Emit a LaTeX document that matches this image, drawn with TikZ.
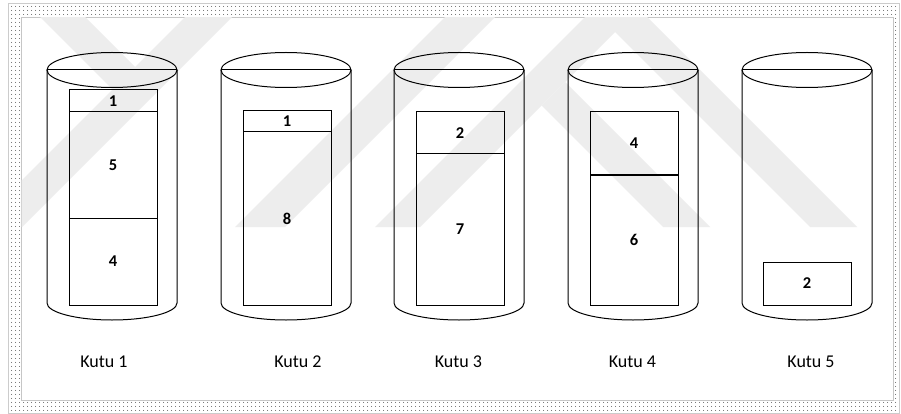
\documentclass[tikz,border=0pt]{standalone}
\usepackage{fontspec}
\setmainfont{Carlito}
\usetikzlibrary{patterns.meta}
\tikzset{
  cylline/.style={line width=1pt, draw=black},
  seg/.style={draw=black, line width=1pt, minimum width=88pt, inner sep=0pt,
    font=\bfseries\fontsize{16.5}{19}\selectfont, text=black},
  lbl/.style={font=\fontsize{18}{22}\selectfont, anchor=base, inner sep=0pt, text=black},
  wm/.style={fill=black!7}
}
\begin{document}
\begin{tikzpicture}[x=1pt,y=-1pt]
\useasboundingbox (0,0) rectangle (901,414);
% dotted frame
\fill[white] (0,0) rectangle (901,414);
\fill[pattern={Dots[distance=4pt,radius=0.6pt]}, pattern color=black!70] (8.5,3.5) rectangle (899.5,413);
\draw[gray!40, line width=0.5pt] (8.5,3.5) rectangle (899.5,413);
\fill[white] (21,17) rectangle (893,400);
\draw[gray!45, line width=0.4pt] (21,17) rectangle (893,400);
% faint watermark
\begin{scope}
\clip (21.5,17.5) rectangle (892.5,227);
\fill[wm] (185,17) -- (232,17) -- (22,227) -- (-25,227) -- cycle;
\fill[wm] (40,17) -- (85,17) -- (135,67) -- (136,113) -- cycle;
\fill[wm] (445,17) -- (495,17) -- (285,227) -- (235,227) -- cycle;
\fill[wm] (585,17) -- (630,17) -- (420,227) -- (375,227) -- cycle;
\fill[wm] (600,17) -- (647,17) -- (857,227) -- (810,227) -- cycle;
\fill[wm] (541.5,105.5) -- (565,82) -- (710,227) -- (663,227) -- cycle;
\end{scope}
% cylinders
\foreach \L in {47,221,394,568,742}{
  \draw[cylline] (\L,70) -- (\L,303)
     arc[start angle=180, end angle=360, x radius=65pt, y radius=17pt] -- (\L+130,70);
  \draw[cylline] (\L+65,70) ellipse [x radius=65pt, y radius=17.5pt];
  \draw[cylline] (\L,70) -- (\L+130,70);
}
% contents
\node[seg, minimum height=22pt]  (a1) at (113,101)   {1};
\node[seg, minimum height=106pt] (a2) at (113,165)   {5};
\node[seg, minimum height=87pt]  (a3) at (113,261.5) {4};
\node[seg, minimum height=21pt]  (b1) at (287,121.5) {1};
\node[seg, minimum height=173pt] (b2) at (287,218.5) {8};
\node[seg, minimum height=42pt]  (c1) at (460,133)   {2};
\node[seg, minimum height=151pt] (c2) at (460,229.5) {7};
\node[seg, minimum height=63pt]  (d1) at (634,143.5) {4};
\node[seg, minimum height=130pt] (d2) at (634,240)   {6};
\node[seg, minimum height=43pt]  (e1) at (807,283.5) {2};
% labels
\node[lbl] (k1) at (104,367)   {Kutu 1};
\node[lbl] (k2) at (298,367)   {Kutu 2};
\node[lbl] (k3) at (458.5,367) {Kutu 3};
\node[lbl] (k4) at (632.5,367) {Kutu 4};
\node[lbl] (k5) at (811,367)   {Kutu 5};
\end{tikzpicture}
\end{document}
